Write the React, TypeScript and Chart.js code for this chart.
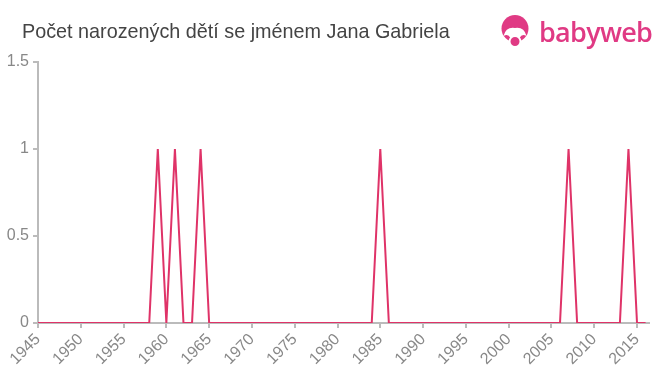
import React, { useEffect, useRef } from "react";
import { Chart, registerables } from "chart.js";

Chart.register(...registerables);

const TITLE = "Počet narozených dětí se jménem Jana Gabriela";

const years = [
  1945, 1946, 1947, 1948, 1949, 1950, 1951, 1952, 1953, 1954,
  1955, 1956, 1957, 1958, 1959, 1960, 1961, 1962, 1963, 1964,
  1965, 1966, 1967, 1968, 1969, 1970, 1971, 1972, 1973, 1974,
  1975, 1976, 1977, 1978, 1979, 1980, 1981, 1982, 1983, 1984,
  1985, 1986, 1987, 1988, 1989, 1990, 1991, 1992, 1993, 1994,
  1995, 1996, 1997, 1998, 1999, 2000, 2001, 2002, 2003, 2004,
  2005, 2006, 2007, 2008, 2009, 2010, 2011, 2012, 2013, 2014,
  2015, 2016,
];

const births = [
  0, 0, 0, 0, 0, 0, 0, 0, 0, 0,
  0, 0, 0, 0, 1, 0, 1, 0, 0, 1,
  0, 0, 0, 0, 0, 0, 0, 0, 0, 0,
  0, 0, 0, 0, 0, 0, 0, 0, 0, 0,
  1, 0, 0, 0, 0, 0, 0, 0, 0, 0,
  0, 0, 0, 0, 0, 0, 0, 0, 0, 0,
  0, 0, 1, 0, 0, 0, 0, 0, 0, 1,
  0, 0,
];

const xTicks = [1945, 1950, 1955, 1960, 1965, 1970, 1975, 1980, 1985, 1990, 1995, 2000, 2005, 2010, 2015];
const yTicks = [0, 0.5, 1, 1.5];

const LINE = "#df3368";
const AXIS = "#bbbbbb";
const TICK_TEXT = "#888888";
const BRAND = "#e03a84";
const FONT = "'Liberation Sans', Arial, Helvetica, sans-serif";

export default function App() {
  const ref = useRef<HTMLCanvasElement | null>(null);

  useEffect(() => {
    if (!ref.current) return;
    const chart = new Chart(ref.current, {
      type: "line",
      data: {
        datasets: [
          {
            data: years.map((y, i) => ({ x: y, y: births[i] })),
            borderColor: LINE,
            backgroundColor: LINE,
            borderWidth: 2,
            pointRadius: 0,
            tension: 0,
            fill: false,
          },
        ],
      },
      options: {
        animation: false,
        responsive: false,
        maintainAspectRatio: false,
        layout: { padding: { top: 62, right: 11, left: 0, bottom: 0 } },
        plugins: {
          legend: { display: false },
          title: { display: false },
          tooltip: { enabled: false },
        },
        scales: {
          x: {
            type: "linear",
            min: 1945,
            max: 2016.4,
            afterFit: (s: any) => {
              s.height = 52;
            },
            afterBuildTicks: (s: any) => {
              s.ticks = xTicks.map((v) => ({ value: v }));
            },
            ticks: {
              color: TICK_TEXT,
              font: { family: FONT, size: 16 },
              minRotation: 45,
              maxRotation: 45,
              padding: 2,
              callback: (v: any) => String(v),
            },
            grid: {
              drawOnChartArea: false,
              drawTicks: true,
              tickLength: 5,
              color: AXIS,
              lineWidth: 2,
            },
            border: { color: AXIS, width: 2 },
          },
          y: {
            min: 0,
            max: 1.5,
            afterFit: (s: any) => {
              s.width = 38;
            },
            afterBuildTicks: (s: any) => {
              s.ticks = yTicks.map((v) => ({ value: v }));
            },
            ticks: {
              color: TICK_TEXT,
              font: { family: FONT, size: 16 },
              padding: 4,
              callback: (v: any) => String(v),
            },
            grid: {
              drawOnChartArea: false,
              drawTicks: true,
              tickLength: 5,
              color: AXIS,
              lineWidth: 2,
            },
            border: { color: AXIS, width: 2 },
          },
        },
      },
    });
    return () => chart.destroy();
  }, []);

  return (
    <div style={{ position: "fixed", left: 0, top: 0, width: 660, height: 375, background: "#fff" }}>
      <canvas ref={ref} width={660} height={375} style={{ position: "absolute", left: 0, top: 0 }} />
      <div
        style={{
          position: "absolute",
          left: 22,
          top: 20,
          fontFamily: FONT,
          fontSize: 19.8,
          color: "#444444",
          whiteSpace: "nowrap",
        }}
      >
        {TITLE}
      </div>
      <svg
        width={30}
        height={34}
        viewBox="0 0 30 34"
        style={{ position: "absolute", left: 500, top: 14 }}
      >
        <circle cx={15} cy={14.5} r={13.5} fill={BRAND} />
        <path d="M3.5 22 Q6 12.5 15 14 Q24 12.5 26.5 22 Q22 19 19.5 24 L10.5 24 Q8 19 3.5 22 Z" fill="#fff" />
        <circle cx={15} cy={27.5} r={5.5} fill={BRAND} stroke="#fff" strokeWidth={2} />
      </svg>
      <div
        style={{
          position: "absolute",
          left: 539,
          top: 13,
          fontFamily: "'Open Sans', 'Noto Sans', sans-serif",
          fontSize: 27,
          fontWeight: 600,
          color: BRAND,
          letterSpacing: -0.7,
          whiteSpace: "nowrap",
        }}
      >
        babyweb
      </div>
    </div>
  );
}
